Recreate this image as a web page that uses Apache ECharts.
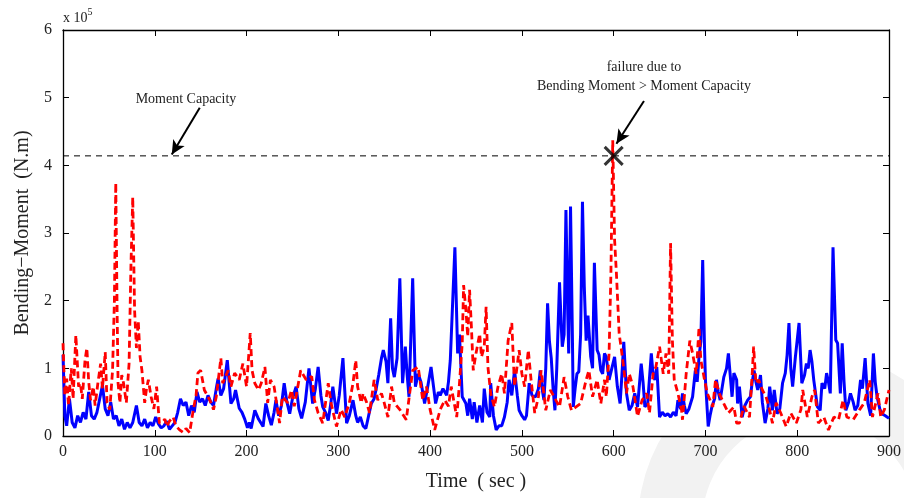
<!DOCTYPE html>
<html>
<head>
<meta charset="utf-8">
<script src="https://cdn.jsdelivr.net/npm/echarts@6/dist/echarts.min.js"></script>
<style>html,body{margin:0;padding:0;background:#fff}#c{width:904px;height:498px}</style>
</head>
<body>
<div id="c"></div>
<script>
// values in units of 1e5 N.m
const xTicks = [0,100,200,300,400,500,600,700,800,900];
const yTicks = [0,1,2,3,4,5,6];

const blueT = [0,2,4,7,10,13,16,19,22,25,28,31,34,37,40,43,46,49,52,55,58,61,64,67,70,73,76,80,83,86,89,92,95,98,
101,104,107,110,113,116,119,122,125,128,131,134,137,140,143,146,149,152,155,158,161,164,167,169,172,175,179,183,186,188,192,195,198,
201,203,205,209,213,218,221,224,227,230,232,235,238,241,244,247,250,254,257,260,264,268,272,275,278,281,283,286,289,292,294,298,
301,305,309,312,316,319,321,324,327,330,333,336,339,341,344,347,349,352,354,357,359,361,364,367,370,373,375,377,381,384,387,390,394,397,
401,404,406,409,411,414,418,420,422,427,430,432,435,437,439,441,443,446,448,451,454,457,459,462,465,466,469,472,475,478,481,484,486,489,492,495,497,
500,503,505,508,511,515,518,520,522,524,526,528,530,532,534,536,538,541,543,544,546,548,550,551,553,555,556,558,560,562,564,566,568,570,572,575,577,579,582,584,586,588,590,592,595,598,
601,604,607,609,611,614,617,620,623,626,630,632,634,637,641,643,645,647,650,653,656,659,662,665,668,670,673,675,677,679,682,686,689,691,693,695,697,699,
700,703,705,707,710,712,714,716,718,720,723,725,727,729,731,734,735,737,740,743,746,749,751,753,755,757,760,762,765,768,770,773,775,778,781,784,787,789,791,793,795,798,
802,805,808,810,812,814,816,818,822,825,827,830,832,834,836,839,842,844,847,849,851,853,856,858,861,863,866,869,871,874,877,880,883,885,887,890,892,896,900];
const blueV = [1.2,0.3,0.15,0.55,0.2,0.12,0.3,0.2,0.35,0.25,0.65,0.3,0.25,0.35,0.55,0.75,0.4,0.3,0.5,0.25,0.3,0.15,0.25,0.1,0.2,0.12,0.2,0.45,0.2,0.15,0.25,0.12,0.2,0.15,
0.28,0.18,0.12,0.15,0.22,0.1,0.15,0.2,0.35,0.55,0.45,0.5,0.3,0.45,0.35,0.65,0.5,0.55,0.45,0.6,0.5,0.45,0.7,0.85,0.6,0.7,1.12,0.48,0.55,0.68,0.41,0.35,0.25,
0.12,0.2,0.11,0.38,0.25,0.14,0.48,0.3,0.16,0.35,0.53,0.3,0.45,0.78,0.5,0.33,0.55,0.73,0.4,0.26,0.5,1.0,0.48,0.7,1.02,0.6,0.43,0.35,0.23,0.5,0.73,0.33,
0.6,1.15,0.19,0.3,0.53,0.3,0.2,0.28,0.15,0.11,0.3,0.48,0.55,0.68,0.9,1.15,1.27,1.1,0.78,1.74,1.0,0.87,1.15,2.33,0.78,1.32,0.9,0.58,2.33,0.73,0.92,0.8,0.48,0.7,
1.02,0.7,0.48,0.65,0.6,0.7,0.6,0.8,1.12,2.79,1.22,1.5,0.58,0.6,0.48,0.3,0.55,0.25,0.5,0.2,0.45,0.2,0.7,0.35,0.28,0.78,0.3,0.09,0.15,0.15,0.28,0.5,0.83,0.6,0.97,0.6,0.38,
0.3,0.24,0.3,0.78,0.6,0.58,0.7,0.97,0.7,0.53,1.0,1.96,1.4,1.15,0.7,0.38,1.0,2.27,1.6,1.32,1.5,3.34,1.8,1.22,3.39,1.5,0.43,0.7,0.92,0.95,1.5,3.46,2.2,1.41,1.78,1.17,1.0,2.56,1.27,1.2,0.97,0.92,1.22,1.17,0.83,1.0,
1.17,0.73,0.48,0.9,1.39,0.63,0.38,0.45,0.63,0.43,1.07,0.8,0.43,0.48,1.22,0.9,0.83,1.02,0.28,0.35,0.3,0.33,0.28,0.35,0.3,0.53,0.4,0.63,0.45,0.33,0.4,0.58,0.97,0.8,1.17,1.4,2.6,1.3,
0.83,0.14,0.3,0.43,0.55,0.83,0.65,0.53,0.7,0.87,1.0,1.22,0.9,0.58,0.93,0.83,0.48,0.73,0.28,0.45,0.53,0.58,0.8,0.97,0.8,0.68,0.9,0.5,0.19,0.4,0.73,0.38,0.68,0.33,0.4,0.78,0.93,1.2,1.67,1.0,0.73,1.17,
1.67,0.78,0.9,1.07,1.0,1.27,1.1,0.83,0.43,0.38,0.78,0.7,0.93,0.8,0.63,2.79,1.42,1.37,0.63,1.37,0.8,0.38,0.5,0.63,0.5,0.38,0.45,0.83,0.7,1.15,0.48,0.3,1.22,0.8,0.58,0.4,0.33,0.3,0.26];

const redT = [0,2,4,6,9,11,14,17,19,21,24,26,28,30,33,35,38,41,43,46,48,51,54,56,57.5,59,60,62,64,66,69,72,74,76,78,80,82,84,86,89,91,93,96,99,
102,105,108,111,113,116,120,123,127,131,134,138,142,145,147,150,154,160,164,167,172,174,180,183,187,192,196,
200,204,206,209,213,216,220,223,226,230,236,239,245,249,252,259,265,271,274,278,283,289,292,294,298,
303,307,312,316,319,321,325,327,331,334,339,343,347,350,354,358,361,367,374,381,387,392,396,
400,405,411,416,420,423,429,432,435,436.5,439,441,443,445,447,450,454,456,459,461,463,466,470,474,478,481,485,489,492,497,
500,503,507,510,514,518,521,526,531,535,541,546,550,554,559,564,570,573,577,582,586,590,592,595,597,599,601,603,605,606,608,611,614,617,621,626,631,636,639,643,646,650,654,657,660,662,664,666,670,674,675,679,683,686,690,693,695,699,
702,708,711,715,720,725,731,734,737,742,748,751,752.5,755,758,762,766,769,773,777,782,788,793,799,
804,806,811,816,819,823,829,834,840,845,850,854,861,868,873,879,882,888,891,895,900];
const redV = [1.37,0.6,0.85,0.45,1.0,0.55,1.49,0.73,0.78,0.55,1.12,1.3,0.8,0.53,0.73,0.45,0.78,1.07,0.7,1.24,0.49,0.39,0.97,2.0,3.74,1.8,0.78,0.49,0.9,0.78,0.49,1.07,2.5,3.53,1.86,1.3,1.7,1.17,0.97,0.49,0.7,0.83,0.58,0.4,
0.73,0.19,0.2,0.25,0.14,0.22,0.28,0.15,0.09,0.05,0.11,0.05,0.39,0.6,0.93,0.97,0.68,0.53,0.39,0.58,1.15,0.78,0.97,0.73,0.93,0.83,1.07,
0.73,1.52,0.97,0.78,0.68,0.78,1.02,0.49,0.83,0.73,0.19,0.58,0.49,0.68,0.44,0.97,0.83,0.88,0.53,0.34,0.19,0.78,0.49,0.49,0.14,
0.39,0.28,0.49,0.78,1.12,0.73,0.49,0.63,0.49,0.34,0.83,0.53,0.63,0.49,0.28,0.73,0.49,0.39,0.24,0.97,1.02,0.53,0.73,
0.39,0.09,0.39,0.53,0.44,0.73,0.28,0.78,1.37,2.23,1.86,1.47,2.16,1.61,0.97,1.22,1.51,1.17,1.32,1.91,1.02,0.63,0.43,0.73,0.92,0.63,1.41,1.67,0.73,1.27,
0.92,0.73,1.27,0.83,0.34,0.58,0.97,0.38,0.68,0.58,0.43,0.87,0.58,0.38,0.43,0.48,0.83,0.97,0.58,0.83,0.48,0.83,0.58,1.22,2.4,4.37,2.9,2.4,1.81,1.51,1.32,1.0,0.63,0.92,0.73,0.29,0.53,0.63,0.34,0.92,1.02,1.32,0.92,1.22,0.92,2.85,1.41,0.83,0.63,0.38,0.24,0.92,1.41,1.22,0.92,1.61,1.12,0.83,
0.63,0.43,0.83,0.63,0.48,0.34,0.43,0.19,0.19,0.44,0.28,0.93,1.32,0.78,0.83,0.68,0.58,0.44,0.19,0.49,0.34,0.14,0.34,0.19,
0.39,0.68,0.28,0.58,0.68,0.19,0.28,0.09,0.28,0.24,0.53,0.28,0.24,0.39,0.49,0.83,0.28,0.63,0.28,0.39,0.68];

const capacityT = [0,900];
const capacityV = [4.14,4.14];
const failureT = [600];
const failureV = [4.14];

const FONT = 'Liberation Serif';
const chart = echarts.init(document.getElementById('c'), null, {renderer:'canvas'});

const pairs = (T,V) => T.map((t,i)=>[t,V[i]]);

const axCommon = {
  min:0, axisLine:{show:true,onZero:false,lineStyle:{color:'#000',width:1.3}},
  axisTick:{show:true,inside:true,length:6,lineStyle:{color:'#000',width:1}},
  splitLine:{show:false}
};

chart.setOption({
  animation:false,
  backgroundColor:'#fff',
  grid:{left:63,right:14,top:30,bottom:62,show:true,backgroundColor:'#fff',borderWidth:0},
  graphic:[
    {type:'ring',z:-10,shape:{cx:810,cy:524,r:172,r0:108},style:{fill:'#f2f2f2'}},
    {type:'text',left:63,top:7,z:10,style:{text:'{a|x 10}{b|5}',rich:{a:{fontFamily:FONT,fontSize:14,fill:'#222',verticalAlign:'bottom'},b:{fontFamily:FONT,fontSize:10,fill:'#222',padding:[0,0,8,0]}}}},
    {type:'text',x:186,y:99,z:10,style:{text:'Moment Capacity',fontFamily:FONT,fontSize:14,fill:'#222',align:'center',verticalAlign:'middle'}},
    {type:'text',x:644,y:67,z:10,style:{text:'failure due to',fontFamily:FONT,fontSize:14,fill:'#222',align:'center',verticalAlign:'middle'}},
    {type:'text',x:644,y:86,z:10,style:{text:'Bending Moment > Moment Capacity',fontFamily:FONT,fontSize:14,fill:'#222',align:'center',verticalAlign:'middle'}}
  ],
  xAxis:[
    Object.assign({type:'value',max:900,interval:100,position:'bottom',
      name:'Time  ( sec )',nameLocation:'middle',nameGap:36,
      nameTextStyle:{fontFamily:FONT,fontSize:20,color:'#222'},
      axisLabel:{fontFamily:FONT,fontSize:16,color:'#222',margin:8}},axCommon),
    Object.assign({type:'value',max:900,interval:100,position:'top',axisLabel:{show:false}},axCommon)
  ],
  yAxis:[
    Object.assign({type:'value',max:6,interval:1,position:'left',
      name:'Bending\u2212Moment  (N.m)',nameLocation:'middle',nameGap:30,
      nameTextStyle:{fontFamily:FONT,fontSize:20,color:'#222'},
      axisLabel:{fontFamily:FONT,fontSize:16,color:'#222',margin:11}},axCommon),
    Object.assign({type:'value',max:6,interval:1,position:'right',axisLabel:{show:false}},axCommon)
  ],
  series:[
    {type:'line',name:'blue',data:pairs(blueT,blueV),showSymbol:false,symbol:'none',
     lineStyle:{color:'#0000ff',width:3},z:3},
    {type:'line',name:'red',data:pairs(redT,redV),showSymbol:false,symbol:'none',
     lineStyle:{color:'#ff0000',width:2.8,type:[7,4]},z:4},
    {type:'line',name:'capacity',data:pairs(capacityT,capacityV),showSymbol:false,symbol:'none',
     lineStyle:{color:'#000',width:1,type:[6,5]},z:5,
     markLine:{silent:true,symbol:['none','arrow'],symbolSize:[10,14],
       lineStyle:{color:'#000',width:2,type:'solid'},label:{show:false},
       data:[
         [{coord:[149,4.85]},{coord:[118.5,4.16]}],
         [{coord:[633,4.95]},{coord:[603,4.32]}]
       ]}},
    {type:'scatter',name:'failure',data:pairs(failureT,failureV),
     symbol:'path://M0,0L10,10M10,0L0,10',symbolSize:18,
     itemStyle:{color:'rgba(0,0,0,0)',borderColor:'#000',borderWidth:3},z:6}
  ]
});
</script>
</body>
</html>
